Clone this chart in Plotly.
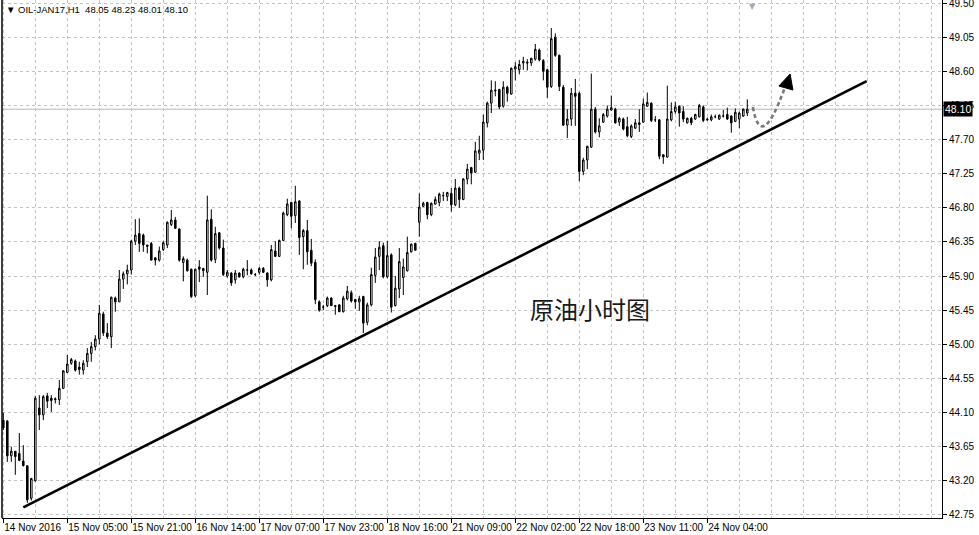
import plotly.graph_objects as go

# ---------------- data (hourly OHLC, OIL-JAN17 H1) ----------------
opens = [44.00, 43.99, 43.53, 43.59, 43.56, 43.46, 43.40, 42.97, 43.20, 44.16,
         44.07, 44.32, 44.29, 44.27, 44.27, 44.42, 44.63, 44.75, 44.78, 44.70,
         44.66, 44.77, 44.88, 44.97, 45.07, 45.40, 45.15, 45.10, 45.61, 45.56,
         45.86, 45.93, 45.98, 46.36, 46.46, 46.44, 46.31, 46.33, 46.14, 46.11,
         46.25, 46.31, 46.58, 46.64, 46.52, 46.08, 46.11, 45.99, 45.64, 46.02,
         45.97, 45.95, 46.65, 46.12, 46.47, 46.27, 45.90, 45.94, 45.85, 45.94,
         45.89, 45.98, 45.98, 45.92, 45.95, 46.00, 45.94, 45.85, 46.23, 46.16,
         46.37, 46.71, 46.87, 46.70, 46.89, 46.42, 46.50, 46.24, 46.08, 45.56,
         45.49, 45.51, 45.61, 45.51, 45.52, 45.43, 45.60, 45.68, 45.59, 45.56,
         45.63, 45.29, 45.52, 45.91, 46.16, 46.30, 45.89, 46.18, 45.51, 45.73,
         45.88, 45.97, 46.22, 46.33, 46.61, 46.82, 46.87, 46.71, 46.85, 46.87,
         46.96, 46.95, 46.99, 46.84, 47.06, 46.91, 47.18, 47.33, 47.27, 47.52,
         47.56, 47.92, 48.18, 48.34, 48.36, 48.14, 48.39, 48.30, 48.63, 48.62,
         48.71, 48.72, 48.71, 48.76, 48.88, 48.74, 48.62, 48.40, 49.05, 48.81,
         48.39, 47.89, 47.97, 48.31, 48.31, 47.28, 47.43, 47.60, 48.10, 47.80,
         47.93, 48.01, 48.09, 48.10, 47.93, 47.97, 47.87, 47.74, 47.85, 47.92,
         47.93, 48.14, 48.18, 47.96, 47.96, 47.50, 47.47, 47.96, 48.07, 48.14,
         48.07, 47.92, 47.98, 47.97, 48.00, 48.13, 47.97, 47.96, 48.00, 47.97,
         48.01, 48.03, 48.01, 47.94, 47.97, 48.01, 48.05]
highs = [44.10, 44.00, 43.65, 43.59, 43.83, 43.67, 43.40, 43.24, 44.32, 44.33,
         44.33, 44.36, 44.33, 44.30, 44.53, 44.66, 44.86, 44.82, 44.80, 44.77,
         44.79, 44.95, 45.03, 45.12, 45.52, 45.43, 45.28, 45.63, 45.63, 45.98,
         45.96, 46.05, 46.38, 46.65, 46.66, 46.46, 46.31, 46.35, 46.15, 46.29,
         46.36, 46.62, 46.77, 46.68, 46.53, 46.16, 46.13, 46.00, 46.00, 46.11,
         46.01, 46.96, 46.78, 46.55, 46.48, 46.38, 45.98, 45.95, 45.98, 45.95,
         46.01, 46.11, 46.00, 45.94, 46.02, 46.02, 45.95, 46.31, 46.36, 46.38,
         46.75, 46.92, 46.88, 47.09, 46.90, 46.52, 46.64, 46.39, 46.12, 45.58,
         45.52, 45.63, 45.62, 45.52, 45.53, 45.64, 45.77, 45.71, 45.60, 45.64,
         45.64, 45.55, 46.01, 46.27, 46.36, 46.34, 46.36, 46.20, 45.90, 46.27,
         46.13, 46.42, 46.33, 46.34, 46.99, 46.88, 46.88, 46.87, 46.95, 47.00,
         47.01, 47.01, 47.06, 47.18, 47.08, 47.19, 47.38, 47.34, 47.67, 47.75,
         48.03, 48.20, 48.48, 48.47, 48.37, 48.47, 48.41, 48.65, 48.72, 48.75,
         48.79, 48.76, 48.78, 48.96, 48.90, 48.76, 48.63, 49.17, 49.10, 48.82,
         48.42, 48.10, 48.38, 48.50, 48.33, 47.46, 47.62, 48.57, 48.13, 47.98,
         48.05, 48.15, 48.28, 48.12, 48.00, 47.99, 48.00, 47.90, 47.97, 48.10,
         48.24, 48.32, 48.19, 48.01, 47.97, 47.50, 48.41, 48.19, 48.20, 48.15,
         48.14, 47.99, 48.00, 48.04, 48.17, 48.15, 47.99, 48.03, 48.03, 48.03,
         48.09, 48.12, 48.02, 48.11, 48.07, 48.11, 48.23]
lows = [43.87, 43.45, 43.45, 43.28, 43.46, 43.39, 42.91, 42.94, 43.19, 43.87,
        44.00, 44.16, 44.11, 44.22, 44.20, 44.41, 44.62, 44.73, 44.64, 44.60,
        44.60, 44.70, 44.77, 44.92, 45.00, 45.11, 45.07, 44.95, 45.43, 45.56,
        45.73, 45.79, 45.92, 46.31, 46.22, 46.22, 46.20, 46.11, 46.04, 46.09,
        46.23, 46.27, 46.56, 46.52, 46.09, 45.83, 45.96, 45.61, 45.62, 45.82,
        45.89, 45.65, 46.09, 46.07, 46.25, 45.90, 45.88, 45.77, 45.80, 45.88,
        45.87, 45.91, 45.92, 45.90, 45.92, 45.94, 45.76, 45.83, 46.15, 46.15,
        46.36, 46.69, 46.53, 46.60, 46.18, 45.99, 46.05, 46.03, 45.53, 45.43,
        45.45, 45.49, 45.51, 45.39, 45.43, 45.42, 45.58, 45.55, 45.47, 45.44,
        45.15, 45.25, 45.50, 45.81, 45.98, 45.87, 45.87, 45.42, 45.50, 45.61,
        45.65, 45.96, 46.21, 46.24, 46.42, 46.81, 46.65, 46.69, 46.84, 46.82,
        46.89, 46.89, 46.75, 46.82, 46.80, 46.90, 47.11, 47.11, 47.26, 47.43,
        47.43, 47.86, 48.05, 48.27, 48.10, 48.12, 48.20, 48.29, 48.48, 48.56,
        48.62, 48.61, 48.67, 48.74, 48.73, 48.48, 48.25, 48.38, 48.79, 48.34,
        47.88, 47.72, 47.88, 47.88, 47.15, 47.23, 47.31, 47.59, 47.78, 47.73,
        47.92, 47.99, 48.08, 47.91, 47.88, 47.82, 47.73, 47.72, 47.84, 47.80,
        47.92, 48.13, 47.93, 47.93, 47.44, 47.38, 47.46, 47.94, 48.04, 47.87,
        47.93, 47.91, 47.89, 47.96, 47.99, 47.93, 47.95, 47.94, 47.98, 47.96,
        47.99, 47.96, 47.79, 47.93, 47.85, 48.00, 48.01]
closes = [43.90, 43.53, 43.59, 43.52, 43.47, 43.40, 42.95, 43.23, 44.29, 44.07,
          44.31, 44.25, 44.26, 44.28, 44.42, 44.65, 44.74, 44.80, 44.66, 44.67,
          44.75, 44.88, 44.97, 45.07, 45.41, 45.15, 45.10, 45.62, 45.56, 45.86,
          45.93, 45.98, 46.36, 46.44, 46.33, 46.31, 46.29, 46.11, 46.11, 46.23,
          46.34, 46.61, 46.64, 46.53, 46.11, 46.13, 45.97, 45.63, 45.99, 45.99,
          46.00, 46.64, 46.11, 46.46, 46.27, 45.92, 45.95, 45.81, 45.94, 45.89,
          45.99, 45.98, 45.93, 45.92, 46.00, 45.95, 45.85, 46.25, 46.16, 46.37,
          46.73, 46.85, 46.69, 46.88, 46.41, 46.50, 46.22, 46.07, 45.59, 45.45,
          45.49, 45.61, 45.51, 45.50, 45.43, 45.61, 45.70, 45.57, 45.56, 45.60,
          45.28, 45.52, 45.92, 46.15, 46.28, 45.89, 46.17, 45.49, 45.74, 46.09,
          46.02, 46.21, 46.32, 46.24, 46.81, 46.86, 46.71, 46.86, 46.91, 46.98,
          46.96, 47.00, 46.84, 47.06, 46.91, 47.18, 47.31, 47.26, 47.55, 47.56,
          47.93, 48.18, 48.35, 48.35, 48.13, 48.39, 48.31, 48.64, 48.66, 48.69,
          48.73, 48.71, 48.77, 48.89, 48.75, 48.60, 48.39, 49.03, 48.81, 48.40,
          47.89, 47.97, 48.31, 48.27, 47.28, 47.43, 47.61, 48.10, 47.80, 47.88,
          48.03, 48.10, 48.12, 47.92, 47.98, 47.84, 47.75, 47.88, 47.92, 47.90,
          48.17, 48.19, 47.95, 47.96, 47.48, 47.47, 47.97, 48.07, 48.13, 48.05,
          47.97, 47.98, 47.92, 48.03, 48.15, 47.95, 47.96, 48.00, 48.00, 48.02,
          48.01, 47.97, 47.92, 48.06, 48.05, 48.10, 48.10]

bar_index = list(range(len(opens)))

# time-axis labels (bar index -> label)
date_tick_bars = [0, 16, 32, 48, 64, 80, 96, 112, 128, 144, 160, 176]
date_tick_labels = ["14 Nov 2016", "15 Nov 05:00", "15 Nov 21:00", "16 Nov 14:00",
                    "17 Nov 07:00", "17 Nov 23:00", "18 Nov 16:00", "21 Nov 09:00",
                    "22 Nov 02:00", "22 Nov 18:00", "23 Nov 11:00", "24 Nov 04:00"]
grid_bars = list(range(8, 233, 8))

price_ticks = [42.75, 43.20, 43.65, 44.10, 44.55, 45.00, 45.45, 45.90, 46.35,
               46.80, 47.25, 47.70, 48.15, 48.60, 49.05, 49.50]
price_labels = [f"{v:.2f}" for v in price_ticks]

last_price = 48.10
header_text = "▼ OIL-JAN17,H1  48.05 48.23 48.01 48.10"
chart_title = "原油小时图"

# trend line (bar index, price) endpoints
trend_start = (5.0, 42.85)
trend_end = (215.85, 48.47)

# ---------------- figure ----------------
GRID = "#c4c4c4"
FONT = "Liberation Sans"

fig = go.Figure()
fig.add_trace(go.Candlestick(
    x=bar_index, open=opens, high=highs, low=lows, close=closes,
    increasing=dict(line=dict(color="black", width=1), fillcolor="white"),
    decreasing=dict(line=dict(color="black", width=1), fillcolor="black"),
    whiskerwidth=0, showlegend=False, hoverinfo="skip",
))

fig.update_layout(
    width=979, height=535,
    margin=dict(l=2, r=37, t=0, b=17, autoexpand=False),
    paper_bgcolor="white", plot_bgcolor="white",
    boxgap=0.45,
    font=dict(family=FONT, size=10.5, color="black"),
    xaxis=dict(
        range=[-0.325, 234.675], rangeslider=dict(visible=False),
        tickmode="array", tickvals=date_tick_bars, ticktext=date_tick_labels,
        ticklabelposition="outside right", tickangle=0, automargin=False,
        ticks="outside", ticklen=4, tickcolor="black",
        showline=True, linecolor="black", linewidth=1,
        showgrid=True, gridcolor=GRID, griddash="3px,3px", gridwidth=1,
        minor=dict(tickmode="array", tickvals=grid_bars, showgrid=True,
                   gridcolor=GRID, griddash="3px,3px", gridwidth=1, ticks=""),
        zeroline=False, fixedrange=True,
        tickfont=dict(family=FONT, size=10, color="black"),
    ),
    yaxis=dict(
        range=[42.710, 49.540], side="right", automargin=False,
        tickmode="array", tickvals=price_ticks, ticktext=price_labels,
        ticklabeloverflow="allow",
        ticks="outside", ticklen=4, tickcolor="black",
        showline=True, linecolor="black", linewidth=1,
        showgrid=True, gridcolor=GRID, griddash="3px,3px", gridwidth=1,
        zeroline=False, fixedrange=True,
        tickfont=dict(family=FONT, size=10, color="black"),
    ),
)

# left frame border
fig.add_shape(type="line", xref="paper", yref="paper", x0=0, x1=0, y0=0, y1=1,
              line=dict(color="black", width=1.5))
# bid line
fig.add_shape(type="line", xref="paper", yref="y", x0=0, x1=1,
              y0=last_price, y1=last_price, line=dict(color="#b8b8b8", width=1),
              layer="below")
# trend line
fig.add_shape(type="line", xref="x", yref="y",
              x0=trend_start[0], y0=trend_start[1], x1=trend_end[0], y1=trend_end[1],
              line=dict(color="black", width=2.6))

# dashed curved arrow (forecast)
fig.add_shape(type="path", xref="x", yref="y",
              path="M 187.4,48.13 Q 189.4,47.52 195.2,48.36",
              line=dict(color="#7a7a7a", width=2.6, dash="4px,3px"))
fig.add_shape(type="path", xref="x", yref="y",
              path="M 196.7,48.564 L 193.9,48.406 L 197.4,48.353 Z",
              fillcolor="black", line=dict(color="black", width=1))

# chart title text
fig.add_annotation(x=146.7, y=45.47, xref="x", yref="y", text=chart_title,
                   showarrow=False,
                   font=dict(family="Noto Sans CJK SC", size=24, color="#1a1a1a"))
# header
fig.add_annotation(x=0.0, y=0.981, xref="paper", yref="paper", text=header_text,
                   showarrow=False, xanchor="left", yanchor="middle", xshift=2,
                   font=dict(family=FONT, size=9.5, color="black"))
# small gray marker at top
fig.add_annotation(x=187.2, y=1, xref="x", yref="paper", text="▼", showarrow=False,
                   yanchor="top", font=dict(family="DejaVu Sans", size=8, color="#a8a8a8"))
# last price box
fig.add_annotation(x=1, y=last_price, xref="paper", yref="y", text=f"{last_price:.2f}",
                   showarrow=False, xanchor="left", yanchor="middle", xshift=1,
                   bgcolor="black", borderpad=1,
                   font=dict(family=FONT, size=10.5, color="white"))

fig.write_html(
    "out.html",
    config={"displayModeBar": False, "responsive": False},
    post_script="document.body.style.margin='0';document.body.style.padding='0';"
                "document.body.style.overflow='hidden';",
)
